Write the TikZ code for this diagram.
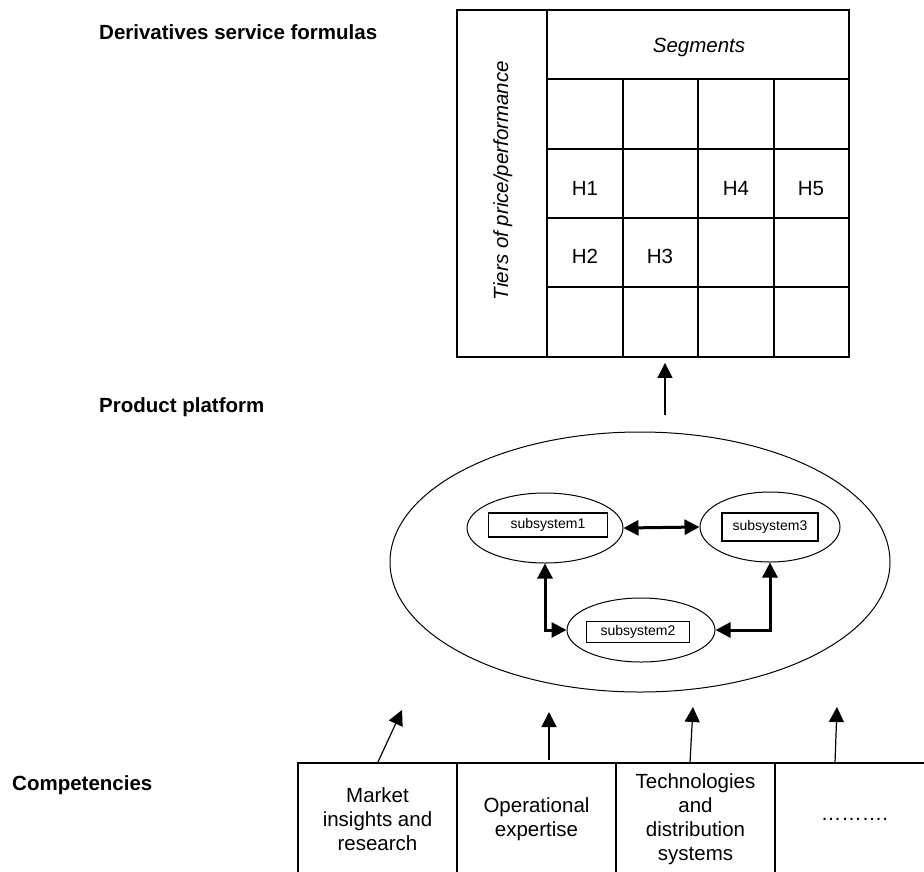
\documentclass[tikz,border=0pt]{standalone}
\usepackage{fontspec}
\setmainfont{Liberation Sans}
\usetikzlibrary{arrows.meta, positioning, shapes.geometric}
\tikzset{
  gridline/.style={line width=1.8pt},
  upline/.style={line width=1.2pt, -{Triangle[length=15pt, width=15pt]}},
  linkline/.style={line width=3pt, {Triangle[length=15pt, width=15pt]}-{Triangle[length=15pt, width=15pt]}},
  lbl/.style={font=\fontsize{20.5}{24}\selectfont\bfseries, anchor=base west, inner sep=0},
  cell/.style={font=\fontsize{20.5}{24}\selectfont, anchor=base, inner sep=0},
  oval/.style={ellipse, draw, line width=1pt, inner sep=0},
  subbox/.style={draw, line width=1.3pt, minimum height=24pt, inner sep=0, font=\fontsize{14}{16}\selectfont},
  compbox/.style={draw, line width=1.8pt, minimum width=159pt, minimum height=112pt, inner sep=0, outer sep=0, align=center, font=\fontsize{20.5}{24}\selectfont}
}

\begin{document}
\begin{tikzpicture}[x=1pt, y=-1pt]
  \useasboundingbox (0,0) rectangle (924,871);
  % --- headings on the left ---
  \node[lbl] (hdform) at (99,39) {Derivatives service formulas};
  \node[lbl] (hdplat) at (99,412) {Product platform};
  \node[lbl] (hdcomp) at (12,790) {Competencies};
  % --- service formula grid ---
  \node[draw, gridline, minimum width=392pt, minimum height=347pt, inner sep=0] (grid) at (653,183.5) {};
  \draw[gridline] (547,10) -- (547,357);
  \draw[gridline] (547,79) -- (849,79);
  \foreach \x in {623,698,774} \draw[gridline] (\x,79) -- (\x,357);
  \foreach \y in {149,218,287} \draw[gridline] (547,\y) -- (849,\y);
  \node[cell] (segs) at (699,52) {\itshape Segments};
  \node[cell, rotate=90] (tiers) at (508,180.5) {\itshape Tiers of price/performance};
  \foreach \n/\x/\y in {H1/585/195, H4/736/195, H5/811/195, H2/585/263, H3/660/263}
    \node[cell] (\n) at (\x,\y) {\n};
  % --- product platform ---
  \node[oval, minimum width=500pt, minimum height=260pt] (plat) at (640,562) {};
  \node[oval, minimum width=156pt, minimum height=70pt] (sub1) at (545,528) {};
  \node[oval, minimum width=140pt, minimum height=70pt] (sub3) at (770,527) {};
  \node[oval, minimum width=148pt, minimum height=64pt] (sub2) at (641,630) {};
  \node[subbox, minimum width=119pt] (sub1box) at (548,525) {subsystem1};
  \node[subbox, minimum width=96pt, minimum height=28pt] (sub3box) at (770,527) {subsystem3};
  \node[subbox, minimum width=103pt, minimum height=21pt] (sub2box) at (638,632) {subsystem2};
  \draw[linkline] (sub1.east) -- (sub3.west);
  \draw[linkline] (sub1.south) |- (sub2.west);
  \draw[linkline] (sub3.south) |- (sub2.east);
  % platform feeds the formulas
  \coordinate (platup) at (665,415);
  \draw[upline, shorten >=5pt] (platup) -- (platup |- grid.south);
  % --- competencies ---
  \node[compbox] (comp1) at (377.5,819) {Market\\insights and\\research};
  \node[compbox, right=0pt of comp1] (comp2) {Operational\\expertise};
  \node[compbox, right=0pt of comp2] (comp3) {Technologies\\and\\distribution\\systems};
  \node[compbox, right=0pt of comp3] (comp4) {……….};
  \coordinate (t1) at (402,710);
  \coordinate (t2) at (549,712);
  \coordinate (t3) at (693,707);
  \coordinate (t4) at (837,707);
  \draw[upline] (comp1.north) -- (t1);
  \draw[upline] ([xshift=12.5pt, yshift=3pt]comp2.north) -- (t2);
  \draw[upline] ([xshift=-5.5pt]comp3.north) -- (t3);
  \draw[upline] ([xshift=-19.5pt]comp4.north) -- (t4);
\end{tikzpicture}
\end{document}
